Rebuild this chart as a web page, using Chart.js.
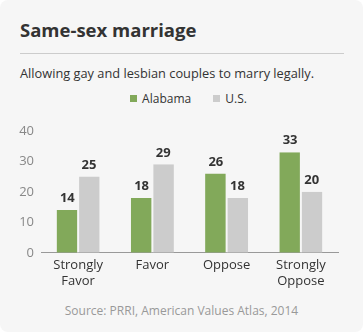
<!DOCTYPE html>
<html>
<head>
<meta charset="utf-8">
<script src="https://cdn.jsdelivr.net/npm/chart.js@4"></script>
<style>
html,body{margin:0;padding:0;background:#fff;}
#card{position:relative;width:363px;height:332px;background:#f6f6f6;border-radius:8px;font-family:"Open Sans",sans-serif;overflow:hidden;}
#title{position:absolute;left:20px;top:17px;font-size:18.5px;font-weight:bold;color:#333;}
#rule{position:absolute;left:20px;top:53px;width:324px;height:1px;background:#ccc;}
#sub{position:absolute;left:20px;top:64px;font-size:12.8px;color:#333;}
#legend{position:absolute;left:130px;top:90px;font-size:12px;color:#333;white-space:nowrap;}
#legend span.item{display:inline-block;margin-right:22px;}
#legend i{display:inline-block;width:7px;height:7px;margin-right:2px;vertical-align:1px;}
#src{position:absolute;left:0;width:363px;top:302px;text-align:center;font-size:12px;color:#999;}
#wrap{position:absolute;left:0;top:116px;width:363px;height:178px;}
</style>
</head>
<body>
<div id="card">
<div id="title">Same-sex marriage</div>
<div id="rule"></div>
<div id="sub">Allowing gay and lesbian couples to marry legally.</div>
<div id="legend"></div>
<div id="wrap"><canvas id="c"></canvas></div>
<div id="src">Source: PRRI, American Values Atlas, 2014</div>
</div>
<script>
let categories=[["Strongly","Favor"],"Favor","Oppose",["Strongly","Oppose"]];
let seriesNames=["Alabama","U.S."];
let alabama=[14,18,26,33];
let us=[25,29,18,20];
let yTicks=[0,10,20,30,40];
let colors=["#82a95a","#cccccc"];

// labels above every bar
let valueLabels={
    id:"valueLabels",
    afterDatasetsDraw(chart){
        let ctx=chart.ctx;
        ctx.save();
        ctx.font="bold 13px 'Open Sans'";
        ctx.fillStyle="#333";
        ctx.textAlign="center";
        ctx.textBaseline="bottom";
        chart.data.datasets.forEach((ds,i)=>{
            chart.getDatasetMeta(i).data.forEach((bar,j)=>{
                ctx.fillText(ds.data[j],bar.x,bar.y-5);
            });
        });
        ctx.restore();
    }
};

let legend=document.getElementById("legend");
seriesNames.forEach((n,i)=>{
    let s=document.createElement("span");
    s.className="item";
    s.innerHTML=`<i style="background:${colors[i]}"></i> ${n}`;
    legend.appendChild(s);
});

let ctx=document.getElementById("c").getContext("2d");
new Chart(ctx,{
    type:"bar",
    data:{labels:categories,datasets:[
        {label:seriesNames[0],data:alabama,backgroundColor:colors[0],borderColor:"#f6f6f6",borderWidth:{left:0,right:1,top:0,bottom:0}},
        {label:seriesNames[1],data:us,backgroundColor:colors[1],borderColor:"#f6f6f6",borderWidth:{left:1,right:0,top:0,bottom:0}}
    ]},
    options:{
        responsive:true,maintainAspectRatio:false,animation:false,
        layout:{padding:{left:0,right:25,top:14,bottom:0}},
        datasets:{bar:{categoryPercentage:0.58,barPercentage:1}},
        plugins:{
            legend:{display:false},
            tooltip:{enabled:false}
        },
        scales:{
            x:{
                grid:{display:false,drawTicks:false},
                border:{color:"#999"},
                ticks:{color:"#333",font:{family:"Open Sans",size:13},padding:5}
            },
            y:{
                min:0,max:40,
                afterBuildTicks:s=>{s.ticks=yTicks.map(v=>({value:v}));},
                afterFit:s=>{s.width=41;},
                grid:{display:false,drawTicks:false},
                border:{display:false},
                ticks:{color:"#888",font:{family:"Open Sans",size:13},padding:7}
            }
        }
    },
    plugins:[valueLabels]
});
</script>
</body>
</html>
